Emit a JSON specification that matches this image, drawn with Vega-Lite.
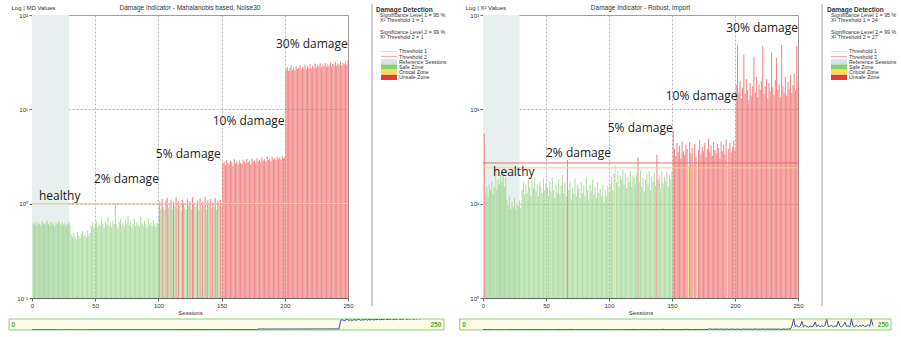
{
  "$schema": "https://vega.github.io/schema/vega-lite/v6.json",
  "padding": {"left": 8, "top": 3, "right": 0, "bottom": 0},
  "data": {"values": [{}]},
  "config": {
    "font": "Liberation Sans",
    "axis": {"labelFontSize": 6, "titleFontSize": 6, "labelColor": "#333", "titleColor": "#333", "titleFontWeight": "normal", "domainColor": "#666", "tickColor": "#666", "tickSize": 3, "labelPadding": 1.5, "titlePadding": 1, "gridColor": "#888", "gridDash": [2, 2], "gridWidth": 0.6, "zindex": 1}
  },
  "datasets": {
    "md": [
      {"s":1,"v":0.62},{"s":2,"v":0.60},{"s":3,"v":0.64},{"s":4,"v":0.59},{"s":5,"v":0.63},{"s":6,"v":0.61},{"s":7,"v":0.58},{"s":8,"v":0.65},{"s":9,"v":0.62},{"s":10,"v":0.60},
      {"s":11,"v":0.63},{"s":12,"v":0.66},{"s":13,"v":0.61},{"s":14,"v":0.59},{"s":15,"v":0.64},{"s":16,"v":0.62},{"s":17,"v":0.60},{"s":18,"v":0.57},{"s":19,"v":0.63},{"s":20,"v":0.61},
      {"s":21,"v":0.65},{"s":22,"v":0.62},{"s":23,"v":0.59},{"s":24,"v":0.64},{"s":25,"v":0.60},{"s":26,"v":0.62},{"s":27,"v":0.58},{"s":28,"v":0.61},{"s":29,"v":0.63},{"s":30,"v":0.60},
      {"s":31,"v":0.47},{"s":32,"v":0.44},{"s":33,"v":0.49},{"s":34,"v":0.45},{"s":35,"v":0.42},{"s":36,"v":0.50},{"s":37,"v":0.46},{"s":38,"v":0.43},{"s":39,"v":0.48},{"s":40,"v":0.51},
      {"s":41,"v":0.45},{"s":42,"v":0.47},{"s":43,"v":0.44},{"s":44,"v":0.52},{"s":45,"v":0.46},{"s":46,"v":0.49},{"s":47,"v":0.58},{"s":48,"v":0.63},{"s":49,"v":0.55},{"s":50,"v":0.60},
      {"s":51,"v":0.66},{"s":52,"v":0.57},{"s":53,"v":0.62},{"s":54,"v":0.59},{"s":55,"v":0.68},{"s":56,"v":0.61},{"s":57,"v":0.56},{"s":58,"v":0.64},{"s":59,"v":0.60},{"s":60,"v":0.72},
      {"s":61,"v":0.58},{"s":62,"v":0.63},{"s":63,"v":0.57},{"s":64,"v":0.66},{"s":65,"v":0.61},{"s":66,"v":0.98},{"s":67,"v":0.60},{"s":68,"v":0.55},{"s":69,"v":0.64},{"s":70,"v":0.70},
      {"s":71,"v":0.58},{"s":72,"v":0.62},{"s":73,"v":0.57},{"s":74,"v":0.67},{"s":75,"v":0.60},{"s":76,"v":0.75},{"s":77,"v":0.59},{"s":78,"v":0.63},{"s":79,"v":0.56},{"s":80,"v":0.61},
      {"s":81,"v":0.69},{"s":82,"v":0.58},{"s":83,"v":0.64},{"s":84,"v":0.60},{"s":85,"v":0.57},{"s":86,"v":0.73},{"s":87,"v":0.62},{"s":88,"v":0.59},{"s":89,"v":0.66},{"s":90,"v":0.61},
      {"s":91,"v":0.56},{"s":92,"v":0.70},{"s":93,"v":0.60},{"s":94,"v":0.63},{"s":95,"v":0.58},{"s":96,"v":0.67},{"s":97,"v":0.61},{"s":98,"v":0.57},{"s":99,"v":0.64},{"s":100,"v":0.60},
      {"s":101,"v":1.05},{"s":102,"v":0.88},{"s":103,"v":1.12},{"s":104,"v":0.92},{"s":105,"v":0.85},{"s":106,"v":1.08},{"s":107,"v":1.15},{"s":108,"v":0.90},{"s":109,"v":0.95},{"s":110,"v":1.10},
      {"s":111,"v":0.87},{"s":112,"v":1.04},{"s":113,"v":0.93},{"s":114,"v":1.16},{"s":115,"v":0.89},{"s":116,"v":1.07},{"s":117,"v":0.96},{"s":118,"v":0.84},{"s":119,"v":1.11},{"s":120,"v":1.03},
      {"s":121,"v":0.91},{"s":122,"v":0.86},{"s":123,"v":1.13},{"s":124,"v":0.94},{"s":125,"v":1.06},{"s":126,"v":0.88},{"s":127,"v":1.17},{"s":128,"v":1.02},{"s":129,"v":0.92},{"s":130,"v":0.97},
      {"s":131,"v":1.09},{"s":132,"v":0.85},{"s":133,"v":1.14},{"s":134,"v":0.90},{"s":135,"v":1.05},{"s":136,"v":0.94},{"s":137,"v":1.18},{"s":138,"v":0.87},{"s":139,"v":1.08},{"s":140,"v":0.96},
      {"s":141,"v":1.12},{"s":142,"v":0.89},{"s":143,"v":1.03},{"s":144,"v":0.93},{"s":145,"v":1.15},{"s":146,"v":0.86},{"s":147,"v":1.07},{"s":148,"v":0.95},{"s":149,"v":1.10},{"s":150,"v":0.91},
      {"s":151,"v":2.65},{"s":152,"v":2.80},{"s":153,"v":2.55},{"s":154,"v":2.90},{"s":155,"v":2.70},{"s":156,"v":2.60},{"s":157,"v":2.85},{"s":158,"v":2.75},{"s":159,"v":2.50},{"s":160,"v":2.95},
      {"s":161,"v":2.68},{"s":162,"v":2.78},{"s":163,"v":2.58},{"s":164,"v":2.88},{"s":165,"v":2.72},{"s":166,"v":2.62},{"s":167,"v":2.92},{"s":168,"v":2.80},{"s":169,"v":2.66},{"s":170,"v":2.98},
      {"s":171,"v":2.74},{"s":172,"v":2.84},{"s":173,"v":2.60},{"s":174,"v":3.00},{"s":175,"v":2.78},{"s":176,"v":2.88},{"s":177,"v":2.70},{"s":178,"v":3.05},{"s":179,"v":2.82},{"s":180,"v":2.92},
      {"s":181,"v":2.76},{"s":182,"v":3.08},{"s":183,"v":2.86},{"s":184,"v":2.96},{"s":185,"v":2.80},{"s":186,"v":3.12},{"s":187,"v":2.90},{"s":188,"v":3.00},{"s":189,"v":2.84},{"s":190,"v":3.15},
      {"s":191,"v":2.94},{"s":192,"v":3.05},{"s":193,"v":2.88},{"s":194,"v":3.18},{"s":195,"v":2.98},{"s":196,"v":3.10},{"s":197,"v":2.92},{"s":198,"v":3.22},{"s":199,"v":3.02},{"s":200,"v":3.14},
      {"s":201,"v":26.5},{"s":202,"v":28.0},{"s":203,"v":25.5},{"s":204,"v":27.2},{"s":205,"v":29.0},{"s":206,"v":26.0},{"s":207,"v":27.8},{"s":208,"v":25.8},{"s":209,"v":28.5},{"s":210,"v":26.8},
      {"s":211,"v":27.5},{"s":212,"v":29.5},{"s":213,"v":26.2},{"s":214,"v":28.2},{"s":215,"v":27.0},{"s":216,"v":29.8},{"s":217,"v":26.6},{"s":218,"v":28.8},{"s":219,"v":27.4},{"s":220,"v":30.2},
      {"s":221,"v":27.0},{"s":222,"v":29.0},{"s":223,"v":28.0},{"s":224,"v":30.5},{"s":225,"v":27.6},{"s":226,"v":29.4},{"s":227,"v":28.4},{"s":228,"v":31.0},{"s":229,"v":27.8},{"s":230,"v":29.8},
      {"s":231,"v":28.6},{"s":232,"v":31.2},{"s":233,"v":28.2},{"s":234,"v":30.0},{"s":235,"v":29.0},{"s":236,"v":31.5},{"s":237,"v":28.4},{"s":238,"v":30.4},{"s":239,"v":29.2},{"s":240,"v":32.0},
      {"s":241,"v":28.8},{"s":242,"v":30.8},{"s":243,"v":29.6},{"s":244,"v":32.2},{"s":245,"v":29.2},{"s":246,"v":31.0},{"s":247,"v":30.0},{"s":248,"v":32.5},{"s":249,"v":29.6},{"s":250,"v":33.0}
    ],
    "chi": [
      {"s":1,"v":55},{"s":2,"v":13},{"s":3,"v":15},{"s":4,"v":12},{"s":5,"v":16},{"s":6,"v":14},{"s":7,"v":17},{"s":8,"v":12.5},{"s":9,"v":15},{"s":10,"v":25.5},
      {"s":11,"v":14},{"s":12,"v":18},{"s":13,"v":16},{"s":14,"v":20},{"s":15,"v":17},{"s":16,"v":21},{"s":17,"v":15},{"s":18,"v":19},{"s":19,"v":11},{"s":20,"v":9.5},
      {"s":21,"v":12},{"s":22,"v":8.8},{"s":23,"v":10.5},{"s":24,"v":9.2},{"s":25,"v":11.5},{"s":26,"v":8.6},{"s":27,"v":10},{"s":28,"v":9.4},{"s":29,"v":10.8},{"s":30,"v":9},
      {"s":31,"v":14},{"s":32,"v":17},{"s":33,"v":12.5},{"s":34,"v":16},{"s":35,"v":13},{"s":36,"v":18},{"s":37,"v":15},{"s":38,"v":12},{"s":39,"v":17.5},{"s":40,"v":14.5},
      {"s":41,"v":19},{"s":42,"v":13.5},{"s":43,"v":16},{"s":44,"v":12},{"s":45,"v":17},{"s":46,"v":15},{"s":47,"v":13},{"s":48,"v":18.5},{"s":49,"v":14},{"s":50,"v":16.5},
      {"s":51,"v":15},{"s":52,"v":12},{"s":53,"v":17},{"s":54,"v":13.5},{"s":55,"v":19},{"s":56,"v":14},{"s":57,"v":11.5},{"s":58,"v":16},{"s":59,"v":13},{"s":60,"v":18},
      {"s":61,"v":12.5},{"s":62,"v":15.5},{"s":63,"v":20},{"s":64,"v":13},{"s":65,"v":16.5},{"s":66,"v":12},{"s":67,"v":29},{"s":68,"v":14},{"s":69,"v":17},{"s":70,"v":11},
      {"s":71,"v":15},{"s":72,"v":13},{"s":73,"v":18.5},{"s":74,"v":12},{"s":75,"v":16},{"s":76,"v":14.5},{"s":77,"v":11.5},{"s":78,"v":17},{"s":79,"v":13},{"s":80,"v":15.5},
      {"s":81,"v":12},{"s":82,"v":19},{"s":83,"v":14},{"s":84,"v":11},{"s":85,"v":16},{"s":86,"v":13.5},{"s":87,"v":18},{"s":88,"v":12.5},{"s":89,"v":15},{"s":90,"v":11.5},
      {"s":91,"v":17},{"s":92,"v":13},{"s":93,"v":14.5},{"s":94,"v":12},{"s":95,"v":16},{"s":96,"v":10.5},{"s":97,"v":14},{"s":98,"v":12},{"s":99,"v":15.5},{"s":100,"v":13},
      {"s":101,"v":16},{"s":102,"v":19},{"s":103,"v":14},{"s":104,"v":21},{"s":105,"v":25.5},{"s":106,"v":17},{"s":107,"v":22},{"s":108,"v":15},{"s":109,"v":20},{"s":110,"v":18},
      {"s":111,"v":23},{"s":112,"v":16},{"s":113,"v":21},{"s":114,"v":14.5},{"s":115,"v":19},{"s":116,"v":17},{"s":117,"v":22},{"s":118,"v":15},{"s":119,"v":20},{"s":120,"v":18.5},
      {"s":121,"v":16},{"s":122,"v":21},{"s":123,"v":31},{"s":124,"v":17},{"s":125,"v":22.5},{"s":126,"v":15},{"s":127,"v":19},{"s":128,"v":13.5},{"s":129,"v":18},{"s":130,"v":20.5},
      {"s":131,"v":16},{"s":132,"v":22},{"s":133,"v":14},{"s":134,"v":19.5},{"s":135,"v":17},{"s":136,"v":21},{"s":137,"v":15.5},{"s":138,"v":33},{"s":139,"v":18},{"s":140,"v":20},
      {"s":141,"v":14.5},{"s":142,"v":22},{"s":143,"v":16.5},{"s":144,"v":19},{"s":145,"v":17.5},{"s":146,"v":21.5},{"s":147,"v":15},{"s":148,"v":20},{"s":149,"v":18},{"s":150,"v":22},
      {"s":151,"v":60},{"s":152,"v":38},{"s":153,"v":32},{"s":154,"v":44},{"s":155,"v":35},{"s":156,"v":41},{"s":157,"v":30},{"s":158,"v":46},{"s":159,"v":36},{"s":160,"v":33},
      {"s":161,"v":42},{"s":162,"v":38},{"s":163,"v":25},{"s":164,"v":45},{"s":165,"v":34},{"s":166,"v":39},{"s":167,"v":26},{"s":168,"v":43},{"s":169,"v":31},{"s":170,"v":24.8},
      {"s":171,"v":37},{"s":172,"v":47},{"s":173,"v":33},{"s":174,"v":40},{"s":175,"v":36},{"s":176,"v":44},{"s":177,"v":31},{"s":178,"v":38},{"s":179,"v":49},{"s":180,"v":35},
      {"s":181,"v":41},{"s":182,"v":32},{"s":183,"v":45},{"s":184,"v":37},{"s":185,"v":34},{"s":186,"v":43},{"s":187,"v":39},{"s":188,"v":30},{"s":189,"v":46},{"s":190,"v":36},
      {"s":191,"v":42},{"s":192,"v":33},{"s":193,"v":48},{"s":194,"v":25.5},{"s":195,"v":38},{"s":196,"v":44},{"s":197,"v":35},{"s":198,"v":40},{"s":199,"v":47},{"s":200,"v":37},
      {"s":201,"v":180},{"s":202,"v":480},{"s":203,"v":150},{"s":204,"v":200},{"s":205,"v":130},{"s":206,"v":170},{"s":207,"v":380},{"s":208,"v":145},{"s":209,"v":210},{"s":210,"v":160},
      {"s":211,"v":125},{"s":212,"v":190},{"s":213,"v":140},{"s":214,"v":175},{"s":215,"v":360},{"s":216,"v":150},{"s":217,"v":220},{"s":218,"v":135},{"s":219,"v":185},{"s":220,"v":160},
      {"s":221,"v":200},{"s":222,"v":470},{"s":223,"v":145},{"s":224,"v":175},{"s":225,"v":210},{"s":226,"v":130},{"s":227,"v":190},{"s":228,"v":155},{"s":229,"v":400},{"s":230,"v":170},
      {"s":231,"v":140},{"s":232,"v":205},{"s":233,"v":350},{"s":234,"v":160},{"s":235,"v":185},{"s":236,"v":135},{"s":237,"v":480},{"s":238,"v":175},{"s":239,"v":150},{"s":240,"v":220},
      {"s":241,"v":140},{"s":242,"v":195},{"s":243,"v":165},{"s":244,"v":230},{"s":245,"v":150},{"s":246,"v":180},{"s":247,"v":240},{"s":248,"v":160},{"s":249,"v":470},{"s":250,"v":200}
    ]
  },
  "hconcat": [
    {
      "vconcat": [
        {
          "hconcat": [
            {
              "width": 316, "height": 283,
              "view": {"stroke": "#a8a8a8"},
              "title": {"text": "Damage Indicator - Mahalanobis based, Noise30", "fontSize": 6.5, "fontWeight": "normal", "color": "#333", "offset": 4, "dy": 11.5},
              "layer": [
                {
                  "data": {"values": [{"first": 0, "last": 29.5}]},
                  "mark": {"type": "rect", "color": "#e7efef"},
                  "encoding": {
                    "x": {"field": "first", "type": "quantitative", "scale": {"domain": [0, 250], "nice": false, "zero": false, "padding": 0},
                          "axis": {"title": "Sessions", "values": [0, 50, 100, 150, 200, 250], "grid": true, "labelFlush": false}},
                    "x2": {"field": "last"},
                    "y": {"datum": 0.1, "type": "quantitative", "scale": {"type": "log", "domain": [0.1, 100], "nice": false, "padding": 0},
                          "axis": {"title": "Log | MD Values", "values": [0.1, 1, 10, 100], "grid": true,
                                   "labelExpr": "'10' + ['⁻¹','⁰','¹','²','³'][round(log(datum.value)/LN10) + 1]",
                                   "titleAngle": 0, "titleAlign": "left", "titleBaseline": "middle", "titleX": -21, "titleY": -8}},
                    "y2": {"datum": 100}
                  }
                },
                {
                  "data": {"name": "md"},
                  "mark": {"type": "bar", "width": 1.1, "opacity": 0.75},
                  "encoding": {
                    "x": {"field": "s", "type": "quantitative"},
                    "y": {"field": "v", "type": "quantitative"},
                    "y2": {"datum": 0.1},
                    "color": {"condition": [{"test": "datum.v > 1", "value": "#ee6666"}], "value": "#9ad48a"}
                  }
                },
                {"mark": {"type": "rule", "color": "#f2a0a0", "strokeWidth": 1}, "encoding": {"y": {"datum": 1, "type": "quantitative"}}},
                {"mark": {"type": "rule", "color": "#f1db6a", "strokeWidth": 1}, "encoding": {"y": {"datum": 1, "type": "quantitative"}}},
                {"mark": {"type": "text", "font": "Open Sans", "fontSize": 12, "color": "#222", "align": "left", "baseline": "middle"},
                 "encoding": {"x": {"datum": 5.5, "type": "quantitative"}, "y": {"datum": 1.22, "type": "quantitative"}, "text": {"value": "healthy"}}},
                {"mark": {"type": "text", "font": "Open Sans", "fontSize": 12, "color": "#222", "align": "left", "baseline": "middle"},
                 "encoding": {"x": {"datum": 49, "type": "quantitative"}, "y": {"datum": 1.84, "type": "quantitative"}, "text": {"value": "2% damage"}}},
                {"mark": {"type": "text", "font": "Open Sans", "fontSize": 12, "color": "#222", "align": "left", "baseline": "middle"},
                 "encoding": {"x": {"datum": 98, "type": "quantitative"}, "y": {"datum": 3.4, "type": "quantitative"}, "text": {"value": "5% damage"}}},
                {"mark": {"type": "text", "font": "Open Sans", "fontSize": 12, "color": "#222", "align": "left", "baseline": "middle"},
                 "encoding": {"x": {"datum": 143, "type": "quantitative"}, "y": {"datum": 7.6, "type": "quantitative"}, "text": {"value": "10% damage"}}},
                {"mark": {"type": "text", "font": "Open Sans", "fontSize": 12, "color": "#222", "align": "left", "baseline": "middle"},
                 "encoding": {"x": {"datum": 193, "type": "quantitative"}, "y": {"datum": 49, "type": "quantitative"}, "text": {"value": "30% damage"}}}
              ]
            },
            {
              "width": 84, "height": 283,
              "view": {"stroke": null},
              "layer": [
                {"mark": {"type": "rule", "color": "#a0a0a0", "strokeWidth": 1},
                 "encoding": {"x": {"datum": 0, "type": "quantitative", "scale": {"domain": [0, 84], "nice": false, "zero": false}, "axis": null},
                              "y": {"datum": -1.1, "type": "quantitative", "scale": {"domain": [1, 55.4], "reverse": true, "nice": false, "zero": false}, "axis": null},
                              "y2": {"datum": 57}}},
                {"mark": {"type": "text", "fontSize": 6.5, "fontWeight": "bold", "color": "#333", "align": "left", "baseline": "middle"},
                 "encoding": {"x": {"datum": 4, "type": "quantitative"}, "y": {"datum": 0, "type": "quantitative"}, "text": {"value": "Damage Detection"}}},
                {"mark": {"type": "text", "fontSize": 5.3, "color": "#333", "align": "left", "baseline": "middle"},
                 "encoding": {"x": {"datum": 8, "type": "quantitative"}, "y": {"datum": 1, "type": "quantitative"}, "text": {"value": "Significance Level 1 = 95 %"}}},
                {"mark": {"type": "text", "fontSize": 5.3, "color": "#333", "align": "left", "baseline": "middle"},
                 "encoding": {"x": {"datum": 8, "type": "quantitative"}, "y": {"datum": 2, "type": "quantitative"}, "text": {"value": "X² Threshold 1 = 1"}}},
                {"mark": {"type": "text", "fontSize": 5.3, "color": "#333", "align": "left", "baseline": "middle"},
                 "encoding": {"x": {"datum": 8, "type": "quantitative"}, "y": {"datum": 4.3, "type": "quantitative"}, "text": {"value": "Significance Level 2 = 99 %"}}},
                {"mark": {"type": "text", "fontSize": 5.3, "color": "#333", "align": "left", "baseline": "middle"},
                 "encoding": {"x": {"datum": 8, "type": "quantitative"}, "y": {"datum": 5.3, "type": "quantitative"}, "text": {"value": "X² Threshold 2 = 1"}}},
                {"mark": {"type": "rule", "color": "#f6e6a0", "strokeWidth": 1},
                 "encoding": {"x": {"datum": 9, "type": "quantitative"}, "x2": {"datum": 25}, "y": {"datum": 8, "type": "quantitative"}}},
                {"mark": {"type": "rule", "color": "#f4a4a4", "strokeWidth": 1},
                 "encoding": {"x": {"datum": 9, "type": "quantitative"}, "x2": {"datum": 25}, "y": {"datum": 9, "type": "quantitative"}}},
                {"mark": {"type": "rect", "color": "#d6e2e3"},
                 "encoding": {"x": {"datum": 9, "type": "quantitative"}, "x2": {"datum": 25}, "y": {"datum": 9.5, "type": "quantitative"}, "y2": {"datum": 10.5}}},
                {"mark": {"type": "rect", "color": "#8ccd78"},
                 "encoding": {"x": {"datum": 9, "type": "quantitative"}, "x2": {"datum": 25}, "y": {"datum": 10.5, "type": "quantitative"}, "y2": {"datum": 11.5}}},
                {"mark": {"type": "rect", "color": "#f5e05a"},
                 "encoding": {"x": {"datum": 9, "type": "quantitative"}, "x2": {"datum": 25}, "y": {"datum": 11.5, "type": "quantitative"}, "y2": {"datum": 12.5}}},
                {"mark": {"type": "rect", "color": "#e23c3c"},
                 "encoding": {"x": {"datum": 9, "type": "quantitative"}, "x2": {"datum": 25}, "y": {"datum": 12.5, "type": "quantitative"}, "y2": {"datum": 13.5}}},
                {"mark": {"type": "text", "fontSize": 5.3, "color": "#333", "align": "left", "baseline": "middle"},
                 "encoding": {"x": {"datum": 27, "type": "quantitative"}, "y": {"datum": 8, "type": "quantitative"}, "text": {"value": "Threshold 1"}}},
                {"mark": {"type": "text", "fontSize": 5.3, "color": "#333", "align": "left", "baseline": "middle"},
                 "encoding": {"x": {"datum": 27, "type": "quantitative"}, "y": {"datum": 9, "type": "quantitative"}, "text": {"value": "Threshold 2"}}},
                {"mark": {"type": "text", "fontSize": 5.3, "color": "#333", "align": "left", "baseline": "middle"},
                 "encoding": {"x": {"datum": 27, "type": "quantitative"}, "y": {"datum": 10, "type": "quantitative"}, "text": {"value": "Reference Sessions"}}},
                {"mark": {"type": "text", "fontSize": 5.3, "color": "#333", "align": "left", "baseline": "middle"},
                 "encoding": {"x": {"datum": 27, "type": "quantitative"}, "y": {"datum": 11, "type": "quantitative"}, "text": {"value": "Safe Zone"}}},
                {"mark": {"type": "text", "fontSize": 5.3, "color": "#333", "align": "left", "baseline": "middle"},
                 "encoding": {"x": {"datum": 27, "type": "quantitative"}, "y": {"datum": 12, "type": "quantitative"}, "text": {"value": "Critical Zone"}}},
                {"mark": {"type": "text", "fontSize": 5.3, "color": "#333", "align": "left", "baseline": "middle"},
                 "encoding": {"x": {"datum": 27, "type": "quantitative"}, "y": {"datum": 13, "type": "quantitative"}, "text": {"value": "Unsafe Zone"}}}
              ]
            }
          ],
          "spacing": 17
        },
        {
          "width": 412, "height": 11,
          "view": {"stroke": null},
          "layer": [
            {"mark": {"type": "rect", "fill": "#fdfde6", "stroke": "#8ccf7a", "strokeWidth": 1},
             "encoding": {"x": {"datum": 0, "type": "quantitative", "scale": {"domain": [13.94, 263.6], "nice": false, "zero": false}, "axis": null},
                          "x2": {"datum": 263.6},
                          "y": {"datum": 0, "type": "quantitative", "scale": {"domain": [0, 30], "nice": false, "zero": false}, "axis": null},
                          "y2": {"datum": 30}}},
            {"data": {"name": "md"},
             "mark": {"type": "line", "clip": true, "color": "#3b4fa6", "strokeWidth": 1},
             "encoding": {"x": {"field": "s", "type": "quantitative"}, "y": {"field": "v", "type": "quantitative"}}},
            {"mark": {"type": "text", "fontSize": 6.5, "fontWeight": "bold", "color": "#4aa83a", "align": "left", "baseline": "middle"},
             "encoding": {"x": {"datum": 1.5, "type": "quantitative"}, "y": {"datum": 15, "type": "quantitative"}, "text": {"value": "0"}}},
            {"mark": {"type": "text", "fontSize": 6.5, "fontWeight": "bold", "color": "#4aa83a", "align": "right", "baseline": "middle"},
             "encoding": {"x": {"datum": 262, "type": "quantitative"}, "y": {"datum": 15, "type": "quantitative"}, "text": {"value": "250"}}}
          ]
        }
      ],
      "spacing": 2
    },
    {
      "vconcat": [
        {
          "hconcat": [
            {
              "width": 315, "height": 283,
              "view": {"stroke": "#a8a8a8"},
              "title": {"text": "Damage Indicator - Robust, import", "fontSize": 6.5, "fontWeight": "normal", "color": "#333", "offset": 4, "dy": 11.5},
              "layer": [
                {
                  "data": {"values": [{"first": 0, "last": 29}]},
                  "mark": {"type": "rect", "color": "#e7efef"},
                  "encoding": {
                    "x": {"field": "first", "type": "quantitative", "scale": {"domain": [0, 250], "nice": false, "zero": false, "padding": 0},
                          "axis": {"title": "Sessions", "values": [0, 50, 100, 150, 200, 250], "grid": true, "labelFlush": false}},
                    "x2": {"field": "last"},
                    "y": {"datum": 1, "type": "quantitative", "scale": {"type": "log", "domain": [1, 1000], "nice": false, "padding": 0},
                          "axis": {"title": "Log | X² Values", "values": [1, 10, 100, 1000], "grid": true,
                                   "labelExpr": "'10' + ['⁻¹','⁰','¹','²','³'][round(log(datum.value)/LN10) + 1]",
                                   "titleAngle": 0, "titleAlign": "left", "titleBaseline": "middle", "titleX": -18, "titleY": -8}},
                    "y2": {"datum": 1000}
                  }
                },
                {
                  "data": {"name": "chi"},
                  "mark": {"type": "bar", "width": 1.1, "opacity": 0.75},
                  "encoding": {
                    "x": {"field": "s", "type": "quantitative"},
                    "y": {"field": "v", "type": "quantitative"},
                    "y2": {"datum": 1},
                    "color": {"condition": [{"test": "datum.v > 27", "value": "#ee6666"}, {"test": "datum.v > 24", "value": "#f0d850"}], "value": "#9ad48a"}
                  }
                },
                {"mark": {"type": "rule", "color": "#ee6a6a", "strokeWidth": 1}, "encoding": {"y": {"datum": 27, "type": "quantitative"}}},
                {"mark": {"type": "rule", "color": "#f1db6a", "strokeWidth": 1}, "encoding": {"y": {"datum": 24, "type": "quantitative"}}},
                {"mark": {"type": "text", "font": "Open Sans", "fontSize": 12, "color": "#222", "align": "left", "baseline": "middle"},
                 "encoding": {"x": {"datum": 8, "type": "quantitative"}, "y": {"datum": 21.5, "type": "quantitative"}, "text": {"value": "healthy"}}},
                {"mark": {"type": "text", "font": "Open Sans", "fontSize": 12, "color": "#222", "align": "left", "baseline": "middle"},
                 "encoding": {"x": {"datum": 50, "type": "quantitative"}, "y": {"datum": 34.8, "type": "quantitative"}, "text": {"value": "2% damage"}}},
                {"mark": {"type": "text", "font": "Open Sans", "fontSize": 12, "color": "#222", "align": "left", "baseline": "middle"},
                 "encoding": {"x": {"datum": 99, "type": "quantitative"}, "y": {"datum": 62.8, "type": "quantitative"}, "text": {"value": "5% damage"}}},
                {"mark": {"type": "text", "font": "Open Sans", "fontSize": 12, "color": "#222", "align": "left", "baseline": "middle"},
                 "encoding": {"x": {"datum": 145, "type": "quantitative"}, "y": {"datum": 137, "type": "quantitative"}, "text": {"value": "10% damage"}}},
                {"mark": {"type": "text", "font": "Open Sans", "fontSize": 12, "color": "#222", "align": "left", "baseline": "middle"},
                 "encoding": {"x": {"datum": 193, "type": "quantitative"}, "y": {"datum": 730, "type": "quantitative"}, "text": {"value": "30% damage"}}}
              ]
            },
            {
              "width": 78, "height": 283,
              "view": {"stroke": null},
              "layer": [
                {"mark": {"type": "rule", "color": "#a0a0a0", "strokeWidth": 1},
                 "encoding": {"x": {"datum": 0, "type": "quantitative", "scale": {"domain": [0, 78], "nice": false, "zero": false}, "axis": null},
                              "y": {"datum": -1.1, "type": "quantitative", "scale": {"domain": [1, 55.4], "reverse": true, "nice": false, "zero": false}, "axis": null},
                              "y2": {"datum": 57}}},
                {"mark": {"type": "text", "fontSize": 6.5, "fontWeight": "bold", "color": "#333", "align": "left", "baseline": "middle"},
                 "encoding": {"x": {"datum": 5, "type": "quantitative"}, "y": {"datum": 0, "type": "quantitative"}, "text": {"value": "Damage Detection"}}},
                {"mark": {"type": "text", "fontSize": 5.3, "color": "#333", "align": "left", "baseline": "middle"},
                 "encoding": {"x": {"datum": 9, "type": "quantitative"}, "y": {"datum": 1, "type": "quantitative"}, "text": {"value": "Significance Level 1 = 95 %"}}},
                {"mark": {"type": "text", "fontSize": 5.3, "color": "#333", "align": "left", "baseline": "middle"},
                 "encoding": {"x": {"datum": 9, "type": "quantitative"}, "y": {"datum": 2, "type": "quantitative"}, "text": {"value": "X² Threshold 1 = 24"}}},
                {"mark": {"type": "text", "fontSize": 5.3, "color": "#333", "align": "left", "baseline": "middle"},
                 "encoding": {"x": {"datum": 9, "type": "quantitative"}, "y": {"datum": 4.3, "type": "quantitative"}, "text": {"value": "Significance Level 2 = 99 %"}}},
                {"mark": {"type": "text", "fontSize": 5.3, "color": "#333", "align": "left", "baseline": "middle"},
                 "encoding": {"x": {"datum": 9, "type": "quantitative"}, "y": {"datum": 5.3, "type": "quantitative"}, "text": {"value": "X² Threshold 2 = 27"}}},
                {"mark": {"type": "rule", "color": "#f6e6a0", "strokeWidth": 1},
                 "encoding": {"x": {"datum": 9, "type": "quantitative"}, "x2": {"datum": 25}, "y": {"datum": 8, "type": "quantitative"}}},
                {"mark": {"type": "rule", "color": "#f4a4a4", "strokeWidth": 1},
                 "encoding": {"x": {"datum": 9, "type": "quantitative"}, "x2": {"datum": 25}, "y": {"datum": 9, "type": "quantitative"}}},
                {"mark": {"type": "rect", "color": "#d6e2e3"},
                 "encoding": {"x": {"datum": 9, "type": "quantitative"}, "x2": {"datum": 25}, "y": {"datum": 9.5, "type": "quantitative"}, "y2": {"datum": 10.5}}},
                {"mark": {"type": "rect", "color": "#8ccd78"},
                 "encoding": {"x": {"datum": 9, "type": "quantitative"}, "x2": {"datum": 25}, "y": {"datum": 10.5, "type": "quantitative"}, "y2": {"datum": 11.5}}},
                {"mark": {"type": "rect", "color": "#f5e05a"},
                 "encoding": {"x": {"datum": 9, "type": "quantitative"}, "x2": {"datum": 25}, "y": {"datum": 11.5, "type": "quantitative"}, "y2": {"datum": 12.5}}},
                {"mark": {"type": "rect", "color": "#e23c3c"},
                 "encoding": {"x": {"datum": 9, "type": "quantitative"}, "x2": {"datum": 25}, "y": {"datum": 12.5, "type": "quantitative"}, "y2": {"datum": 13.5}}},
                {"mark": {"type": "text", "fontSize": 5.3, "color": "#333", "align": "left", "baseline": "middle"},
                 "encoding": {"x": {"datum": 27, "type": "quantitative"}, "y": {"datum": 8, "type": "quantitative"}, "text": {"value": "Threshold 1"}}},
                {"mark": {"type": "text", "fontSize": 5.3, "color": "#333", "align": "left", "baseline": "middle"},
                 "encoding": {"x": {"datum": 27, "type": "quantitative"}, "y": {"datum": 9, "type": "quantitative"}, "text": {"value": "Threshold 2"}}},
                {"mark": {"type": "text", "fontSize": 5.3, "color": "#333", "align": "left", "baseline": "middle"},
                 "encoding": {"x": {"datum": 27, "type": "quantitative"}, "y": {"datum": 10, "type": "quantitative"}, "text": {"value": "Reference Sessions"}}},
                {"mark": {"type": "text", "fontSize": 5.3, "color": "#333", "align": "left", "baseline": "middle"},
                 "encoding": {"x": {"datum": 27, "type": "quantitative"}, "y": {"datum": 11, "type": "quantitative"}, "text": {"value": "Safe Zone"}}},
                {"mark": {"type": "text", "fontSize": 5.3, "color": "#333", "align": "left", "baseline": "middle"},
                 "encoding": {"x": {"datum": 27, "type": "quantitative"}, "y": {"datum": 12, "type": "quantitative"}, "text": {"value": "Critical Zone"}}},
                {"mark": {"type": "text", "fontSize": 5.3, "color": "#333", "align": "left", "baseline": "middle"},
                 "encoding": {"x": {"datum": 27, "type": "quantitative"}, "y": {"datum": 13, "type": "quantitative"}, "text": {"value": "Unsafe Zone"}}}
              ]
            }
          ],
          "spacing": 17
        },
        {
          "width": 408, "height": 11,
          "view": {"stroke": null},
          "layer": [
            {"mark": {"type": "rect", "fill": "#fdfde6", "stroke": "#8ccf7a", "strokeWidth": 1},
             "encoding": {"x": {"datum": 0, "type": "quantitative", "scale": {"domain": [14.1, 260.9], "nice": false, "zero": false}, "axis": null},
                          "x2": {"datum": 260.9},
                          "y": {"datum": 0, "type": "quantitative", "scale": {"domain": [0, 490], "nice": false, "zero": false}, "axis": null},
                          "y2": {"datum": 490}}},
            {"data": {"name": "chi"},
             "mark": {"type": "line", "clip": true, "color": "#3b4fa6", "strokeWidth": 1},
             "encoding": {"x": {"field": "s", "type": "quantitative"}, "y": {"field": "v", "type": "quantitative"}}},
            {"mark": {"type": "text", "fontSize": 6.5, "fontWeight": "bold", "color": "#4aa83a", "align": "left", "baseline": "middle"},
             "encoding": {"x": {"datum": 1.5, "type": "quantitative"}, "y": {"datum": 245, "type": "quantitative"}, "text": {"value": "0"}}},
            {"mark": {"type": "text", "fontSize": 6.5, "fontWeight": "bold", "color": "#4aa83a", "align": "right", "baseline": "middle"},
             "encoding": {"x": {"datum": 259.5, "type": "quantitative"}, "y": {"datum": 245, "type": "quantitative"}, "text": {"value": "250"}}}
          ]
        }
      ],
      "spacing": 2
    }
  ],
  "spacing": 3
}
